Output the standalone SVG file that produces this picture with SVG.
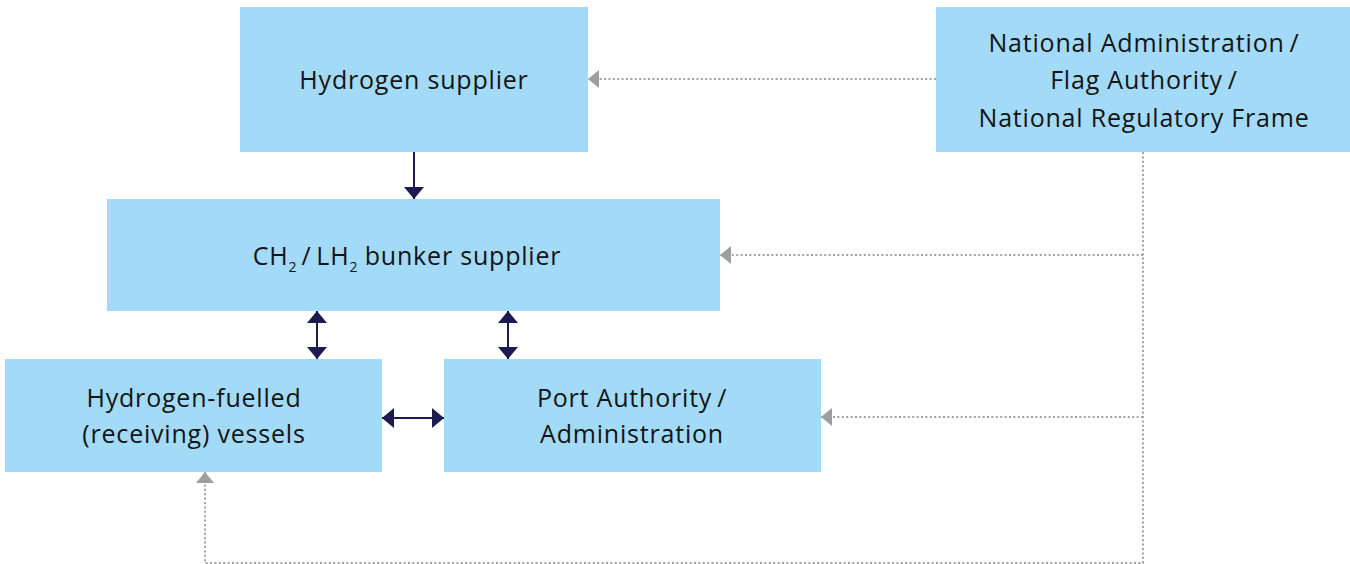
<svg xmlns="http://www.w3.org/2000/svg" width="1350" height="564" viewBox="0 0 1350 564">
  <style>
    .box { fill: #a2daf7; }
    .lbl { font-family: "Open Sans", Lato, sans-serif; font-size: 25px; letter-spacing: 0.8px; fill: #141414; text-anchor: middle; }
    .sub { font-size: 14px; letter-spacing: 0; }
    .flow { fill: none; stroke: #1c1a4e; stroke-width: 2; }
    .reg { fill: none; stroke: #a3a3a3; stroke-width: 2; stroke-dasharray: 2 2.4; }
  </style>
  <defs>
    <marker id="dark" markerUnits="userSpaceOnUse" markerWidth="12" markerHeight="20" refX="12" refY="10" orient="auto-start-reverse">
      <path d="M0,0 L12,10 L0,20 Z" fill="#1c1a4e"/>
    </marker>
    <marker id="grey" markerUnits="userSpaceOnUse" markerWidth="11" markerHeight="18" refX="11" refY="9" orient="auto">
      <path d="M0,0 L11,9 L0,18 Z" fill="#9e9e9e"/>
    </marker>
  </defs>

  <g id="connectors">
    <path class="flow" d="M414,152 V199" marker-end="url(#dark)"/>
    <path class="flow" d="M317,311 V359" marker-start="url(#dark)" marker-end="url(#dark)"/>
    <path class="flow" d="M508,311 V359" marker-start="url(#dark)" marker-end="url(#dark)"/>
    <path class="flow" d="M382,418 H444" marker-start="url(#dark)" marker-end="url(#dark)"/>
    <path class="reg" d="M936,79 H588" marker-end="url(#grey)"/>
    <path class="reg" d="M1143,152 V563 H205 V472" marker-end="url(#grey)"/>
    <path class="reg" d="M1143,255 H720" marker-end="url(#grey)"/>
    <path class="reg" d="M1143,417 H821" marker-end="url(#grey)"/>
  </g>

  <g id="hydrogen-supplier">
    <rect class="box" x="240" y="7" width="348" height="145"/>
    <text class="lbl" x="414" y="89">Hydrogen supplier</text>
  </g>

  <g id="bunker-supplier">
    <rect class="box" x="107" y="199" width="613" height="112"/>
    <text class="lbl" x="407" y="265">CH<tspan class="sub" dy="7">2</tspan><tspan dy="-7">&#8201;/&#8201;LH</tspan><tspan class="sub" dy="7">2</tspan><tspan dy="-7"> bunker supplier</tspan></text>
  </g>

  <g id="receiving-vessels">
    <rect class="box" x="5" y="359" width="377" height="113"/>
    <text class="lbl" x="194" y="407">Hydrogen-fuelled</text>
    <text class="lbl" x="194" y="443">(receiving) vessels</text>
  </g>

  <g id="port-authority">
    <rect class="box" x="444" y="359" width="377" height="113"/>
    <text class="lbl" x="632" y="407">Port Authority&#8201;/</text>
    <text class="lbl" x="632" y="443">Administration</text>
  </g>

  <g id="national-administration">
    <rect class="box" x="936" y="7" width="414" height="145"/>
    <text class="lbl" x="1144" y="52">National Administration&#8201;/</text>
    <text class="lbl" x="1144" y="89">Flag Authority&#8201;/</text>
    <text class="lbl" x="1144" y="127">National Regulatory Frame</text>
  </g>
</svg>
